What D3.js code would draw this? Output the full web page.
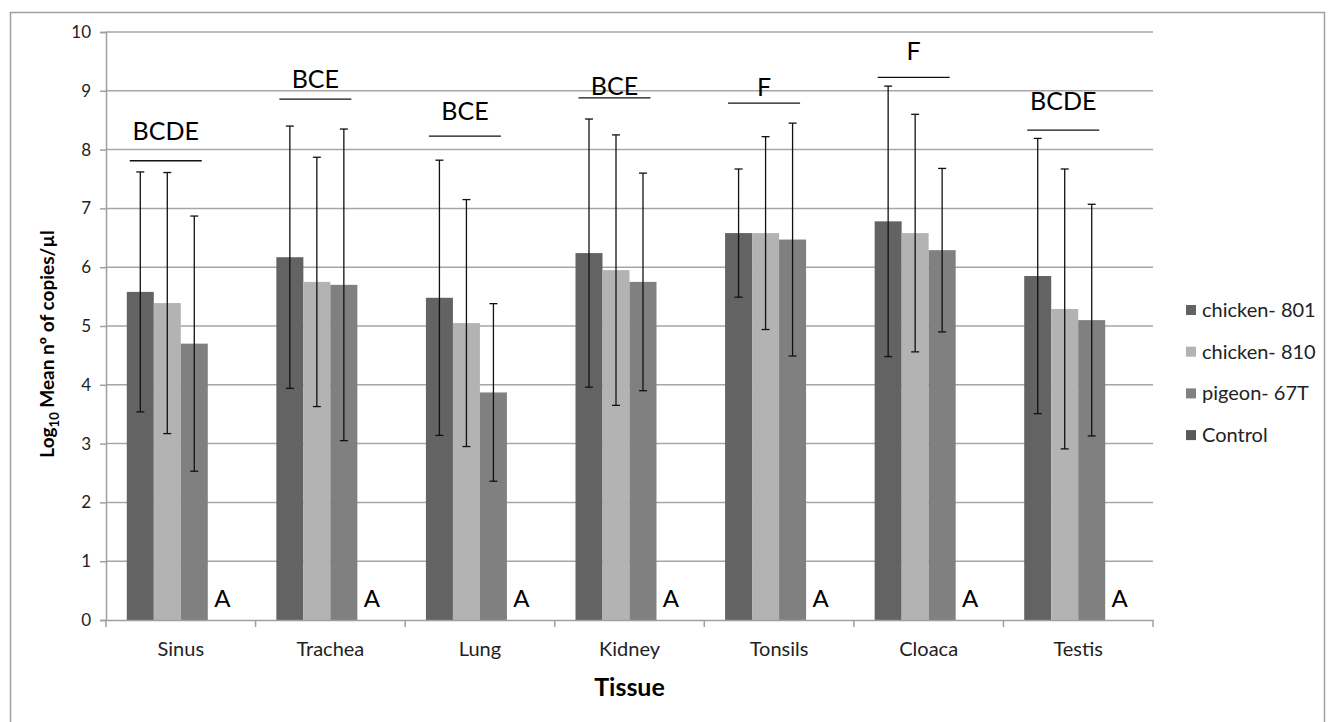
<!DOCTYPE html>
<html lang="en">
<head>
<meta charset="UTF-8">
<title>Tissue copies</title>
<script src="https://d3js.org/d3.v7.min.js"></script>
<style>
  body { margin: 0; background: #fff; }
  svg text { font-family: Lato, "Open Sans", sans-serif; }
</style>
</head>
<body>
<div id="chart"></div>
<script>
// data
const tissues = ["Sinus", "Trachea", "Lung", "Kidney", "Tonsils", "Cloaca", "Testis"];
const seriesNames = ["chicken- 801", "chicken- 810", "pigeon- 67T", "Control"];
const chicken801 = [5.58, 6.17, 5.48, 6.24, 6.58, 6.78, 5.85];
const chicken810 = [5.39, 5.75, 5.05, 5.95, 6.58, 6.58, 5.29];
const pigeon67T  = [4.70, 5.70, 3.87, 5.75, 6.47, 6.29, 5.10];
const control    = [0, 0, 0, 0, 0, 0, 0];
const sd801 = [2.04, 2.23, 2.34, 2.28, 1.09, 2.30, 2.34];
const sd810 = [2.22, 2.12, 2.10, 2.30, 1.64, 2.02, 2.38];
const sd67T = [2.17, 2.65, 1.51, 1.85, 1.98, 1.39, 1.97];
const sigLabels = ["BCDE", "BCE", "BCE", "BCE", "F", "F", "BCDE"];
const sigLineLevel = [7.81, 8.86, 8.23, 8.88, 8.79, 9.23, 8.33];
const sigTextLevel = [8.16, 9.05, 8.50, 8.93, 8.91, 9.52, 8.67];
const controlLabel = "A";
const yTicks = [0, 1, 2, 3, 4, 5, 6, 7, 8, 9, 10];

const W = 1328, H = 722;
const margin = {top: 32, right: 175, bottom: 102, left: 106};
const width = W - margin.left - margin.right,
      height = H - margin.top - margin.bottom;

const colors = ["#636363", "#b3b3b3", "#808080", "#595959"];
const values = [chicken801, chicken810, pigeon67T, control];
const sds = [sd801, sd810, sd67T, null];

const svgRoot = d3.select("#chart").append("svg")
    .attr("width", W).attr("height", H);

// outer frame
svgRoot.append("rect")
    .attr("x", 10.5).attr("y", 12.5)
    .attr("width", W - 14).attr("height", H)
    .attr("fill", "none").attr("stroke", "#a0a0a0").attr("stroke-width", 1.5);

const svg = svgRoot.append("g")
    .attr("transform", `translate(${margin.left},${margin.top})`);

const x0 = d3.scaleBand().domain(tissues).range([0, width]).padding(0);
const x1 = d3.scaleBand().domain(seriesNames).range([0, x0.bandwidth()])
    .paddingInner(0).paddingOuter(0.77);
const y = d3.scaleLinear().domain([0, 10]).range([height, 0]);

// grid
svg.append("g").selectAll("line").data(yTicks.filter(d => d > 0)).join("line")
    .attr("x1", 0).attr("x2", width)
    .attr("y1", d => y(d)).attr("y2", d => y(d))
    .attr("stroke", "#a6a6a6").attr("stroke-width", 1.5);

// y axis
const yAxis = svg.append("g")
    .call(d3.axisLeft(y).tickValues(yTicks).tickSize(6).tickPadding(9));
yAxis.select(".domain").attr("stroke", "#a0a0a0").attr("stroke-width", 1.5);
yAxis.selectAll(".tick line").attr("stroke", "#a0a0a0").attr("stroke-width", 1.5);
yAxis.selectAll("text").attr("font-size", 17).attr("fill", "#222");

// bars
tissues.forEach((t, i) => {
    const g = svg.append("g").attr("transform", `translate(${x0(t)},0)`);
    seriesNames.forEach((s, k) => {
        const v = values[k][i];
        g.append("rect")
            .attr("x", x1(s)).attr("y", y(v))
            .attr("width", x1.bandwidth()).attr("height", y(0) - y(v))
            .attr("fill", colors[k]);
    });
});

// error bars
tissues.forEach((t, i) => {
    [0, 1, 2].forEach(k => {
        const cx = x0(t) + x1(seriesNames[k]) + x1.bandwidth() / 2;
        const v = values[k][i], e = sds[k][i];
        const g = svg.append("g").attr("stroke", "#111").attr("stroke-width", 1.3);
        g.append("line").attr("x1", cx).attr("x2", cx).attr("y1", y(v + e)).attr("y2", y(v - e));
        g.append("line").attr("x1", cx - 4).attr("x2", cx + 4).attr("y1", y(v + e)).attr("y2", y(v + e));
        g.append("line").attr("x1", cx - 4).attr("x2", cx + 4).attr("y1", y(v - e)).attr("y2", y(v - e));
    });
});

// x axis
const xAxis = svg.append("g").attr("transform", `translate(0,${height})`)
    .call(d3.axisBottom(x0).tickSize(0).tickPadding(22));
xAxis.select(".domain").attr("stroke", "#a0a0a0").attr("stroke-width", 1.5);
xAxis.selectAll("text").attr("font-size", 20).attr("fill", "#222");
svg.append("g").selectAll("line").data(d3.range(tissues.length + 1)).join("line")
    .attr("x1", d => d * x0.step()).attr("x2", d => d * x0.step())
    .attr("y1", height).attr("y2", height + 7)
    .attr("stroke", "#a0a0a0").attr("stroke-width", 1.5);

// control letters
svg.append("g").selectAll("text").data(tissues).join("text")
    .attr("x", d => x0(d) + x1("Control") + x1.bandwidth() / 2 + 1)
    .attr("y", y(0) - 13)
    .attr("text-anchor", "middle")
    .attr("font-size", 24).attr("fill", "#000")
    .text(controlLabel);

// significance lines and letters
tissues.forEach((t, i) => {
    const left = x0(t) + x1(seriesNames[0]) + 3;
    const right = x0(t) + x1(seriesNames[2]) + x1.bandwidth() - 6;
    svg.append("line")
        .attr("x1", left).attr("x2", right)
        .attr("y1", y(sigLineLevel[i])).attr("y2", y(sigLineLevel[i]))
        .attr("stroke", "#111").attr("stroke-width", 1.3);
    svg.append("text")
        .attr("x", (left + right) / 2).attr("y", y(sigTextLevel[i]))
        .attr("text-anchor", "middle").attr("font-size", 25).attr("fill", "#000")
        .text(sigLabels[i]);
});

// axis titles
svg.append("text")
    .attr("x", width / 2).attr("y", height + 76)
    .attr("text-anchor", "middle").attr("font-size", 25).attr("font-weight", "bold")
    .attr("fill", "#000").text("Tissue");

const yl = svg.append("text")
    .attr("transform", `translate(${-52},${height / 2 + 18}) rotate(-90)`)
    .attr("text-anchor", "middle").attr("font-size", 19).attr("font-weight", "bold")
    .attr("fill", "#000");
yl.append("tspan").text("Log");
yl.append("tspan").attr("font-size", 13).attr("dy", 5).text("10");
yl.append("tspan").attr("dy", -5).text("  Mean nº of copies/µl");

// legend
const legend = svgRoot.append("g").attr("transform", "translate(1186,310)");
seriesNames.forEach((s, k) => {
    const row = legend.append("g").attr("transform", `translate(0,${k * 41.7})`);
    row.append("rect").attr("x", 0).attr("y", -5).attr("width", 10).attr("height", 10)
        .attr("fill", colors[k]);
    row.append("text").attr("x", 16).attr("y", 0).attr("dy", "0.35em")
        .attr("font-size", 20).attr("fill", "#222").text(s);
});
</script>
</body>
</html>
